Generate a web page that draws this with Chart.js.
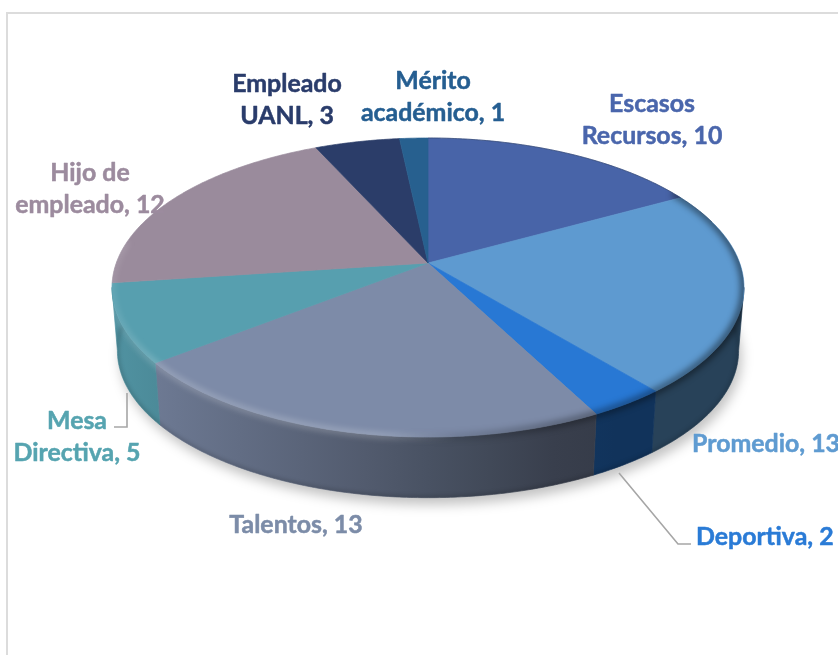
<!DOCTYPE html>
<html>
<head>
<meta charset="utf-8">
<script src="https://cdn.jsdelivr.net/npm/chart.js@4"></script>
<style>
html,body{margin:0;padding:0;background:#fff;overflow:hidden}
#wrap{position:relative;width:838px;height:655px}
#frame{position:absolute;left:6px;top:12px;width:900px;height:800px;border:2px solid #dcdcdc}
canvas{position:absolute;left:0;top:0}
</style>
</head>
<body>
<div id="wrap"><div id="frame"></div><canvas id="c" width="838" height="655"></canvas></div>
<script>
const categories = ["Escasos\nRecursos","Promedio","Deportiva","Talentos","Mesa\nDirectiva","Hijo de\nempleado","Empleado\nUANL","Mérito\nacadémico"];
const values = [10,13,2,13,5,12,3,1];
const sliceColors = ["#4864a8","#5e9ad0","#2878d4","#7d8ba8","#579faf","#9a8b9c","#2b3d69","#27608f"];
const textColors = ["#4a66ac","#5f9bd1","#2a7bd6","#7c8ca8","#56a4b0","#9c8b9e","#2a3c6b","#255e91"];
// label anchors: [x, y of first line, align]
const labelAnchors = [[652,104,"center"],[692,444,"left"],[696,537,"left"],[296,525,"center"],[77,421,"center"],[90,173,"center"],[287,84,"center"],[433,81,"center"]];
const leaderLines = [[[619,473],[678,544],[691,544]],[[127,393],[127,427],[114,427]]];

const P = {a:145.5, b:311.7, k:0.164, depth:63.6, shrink:0.983, extreme:9.4*Math.PI/180, lineH:32};

function ringPoint(arc, t, bottom){
  const x=Math.cos(t), y=Math.sin(t), w=1-P.k*y, s=bottom?P.shrink:1;
  return [arc.x+s*P.b*x/w, arc.y+s*P.a*y/w+(bottom?P.depth:0)];
}
function trace(ctx, arc, t0, t1, bottom, first){
  const n=Math.max(2,Math.ceil(Math.abs(t1-t0)/0.01));
  for(let i=0;i<=n;i++){
    const p=ringPoint(arc,t0+(t1-t0)*i/n,bottom);
    if(i===0&&first) ctx.moveTo(p[0],p[1]); else ctx.lineTo(p[0],p[1]);
  }
}
function shade(hex,f){
  const n=parseInt(hex.slice(1),16);
  return `rgb(${((n>>16)&255)*f|0},${((n>>8)&255)*f|0},${(n&255)*f|0})`;
}
function silhouette(ctx,arc){
  ctx.beginPath();
  trace(ctx,arc,Math.PI-P.extreme,2*Math.PI+P.extreme,false,true);
  trace(ctx,arc,P.extreme,Math.PI-P.extreme,true,false);
  ctx.closePath();
}
const pie3d = {
  id:'pie3d',
  beforeDatasetsDraw(chart){
    const ctx=chart.ctx, arcs=chart.getDatasetMeta(0).data, arc0=arcs[0];
    // ground shadow
    ctx.save();
    ctx.filter='blur(6px)';
    ctx.fillStyle='rgba(0,0,0,0.24)';
    ctx.translate(3,7);
    ctx.beginPath();
    trace(ctx,arc0,0,2*Math.PI,true,true);
    ctx.fill();
    ctx.restore();
    // outer walls (front-facing part only)
    arcs.forEach((arc,i)=>{
      const t0=Math.max(arc.startAngle,P.extreme), t1=Math.min(arc.endAngle,Math.PI-P.extreme);
      if(t1<=t0) return;
      const g=ctx.createLinearGradient(115,0,740,0);
      for(let s=0;s<=10;s++){
        const x=115+62.5*s;
        const f=Math.max(0.43,0.92-0.5*(x-115)/475);
        g.addColorStop(s/10,shade(sliceColors[i],f));
      }
      ctx.fillStyle=g; ctx.strokeStyle=g; ctx.lineWidth=0.7;
      ctx.beginPath();
      trace(ctx,arc,t0,t1,false,true);
      trace(ctx,arc,t1,t0,true,false);
      ctx.closePath(); ctx.fill(); ctx.stroke();
    });
    // bottom edge darkening
    ctx.save();
    silhouette(ctx,arc0); ctx.clip();
    ctx.filter='blur(2px)';
    ctx.strokeStyle='rgba(0,0,0,0.25)'; ctx.lineWidth=2.5;
    ctx.beginPath(); trace(ctx,arc0,0,Math.PI,true,true); ctx.stroke();
    ctx.restore();
    // top faces
    arcs.forEach((arc,i)=>{
      ctx.fillStyle=sliceColors[i]; ctx.strokeStyle=sliceColors[i]; ctx.lineWidth=0.7;
      ctx.beginPath(); ctx.moveTo(arc.x,arc.y);
      trace(ctx,arc,arc.startAngle,arc.endAngle,false,false);
      ctx.closePath(); ctx.fill(); ctx.stroke();
    });
    // rim bevel
    ctx.save();
    silhouette(ctx,arc0); ctx.clip();
    ctx.filter='blur(3px)';
    const hi=ctx.createLinearGradient(110,0,745,0);
    hi.addColorStop(0,'rgba(255,255,255,0.12)');
    hi.addColorStop(0.08,'rgba(255,255,255,0.26)');
    hi.addColorStop(0.42,'rgba(255,255,255,0.28)');
    hi.addColorStop(0.55,'rgba(255,255,255,0)');
    ctx.strokeStyle=hi; ctx.lineWidth=5;
    ctx.beginPath(); trace(ctx,arc0,0.3,Math.PI+0.15,false,true); ctx.stroke();
    const lo=ctx.createLinearGradient(110,0,745,0);
    lo.addColorStop(0.45,'rgba(0,0,0,0)');
    lo.addColorStop(0.7,'rgba(0,0,0,0.3)');
    lo.addColorStop(1,'rgba(0,0,0,0.5)');
    ctx.strokeStyle=lo; ctx.lineWidth=7;
    ctx.beginPath(); trace(ctx,arc0,-0.55,Math.PI*0.7,false,true); ctx.stroke();
    ctx.restore();
    // thin back edge
    ctx.save();
    ctx.strokeStyle='rgba(30,40,60,0.35)'; ctx.lineWidth=1;
    ctx.beginPath(); trace(ctx,arc0,-Math.PI/2,-0.3,false,true); ctx.stroke();
    ctx.restore();
    return false;
  },
  afterDraw(chart){
    const ctx=chart.ctx;
    ctx.save();
    ctx.strokeStyle='#a6a6a6'; ctx.lineWidth=1.6;
    leaderLines.forEach(l=>{
      ctx.beginPath(); l.forEach((p,i)=>i?ctx.lineTo(p[0],p[1]):ctx.moveTo(p[0],p[1])); ctx.stroke();
    });
    ctx.font='bold 24.9px Lato'; ctx.textBaseline='middle'; ctx.lineWidth=0.5; ctx.lineJoin='round';
    categories.forEach((c,i)=>{
      const lines=(c+', '+values[i]).split('\n'), a=labelAnchors[i];
      ctx.fillStyle=textColors[i]; ctx.strokeStyle=textColors[i]; ctx.textAlign=a[2];
      lines.forEach((t,j)=>{
        ctx.fillText(t,a[0],a[1]+j*P.lineH);
        ctx.strokeText(t,a[0],a[1]+j*P.lineH);
      });
    });
    ctx.restore();
  }
};
new Chart(document.getElementById('c'),{
  type:'pie',
  data:{labels:categories.map(c=>c.replace('\n',' ')),datasets:[{data:values,backgroundColor:sliceColors,borderWidth:0}]},
  options:{responsive:false,animation:false,layout:{padding:{left:18,bottom:129}},
    plugins:{legend:{display:false},tooltip:{enabled:false}}},
  plugins:[pie3d]
});
</script>
</body>
</html>
